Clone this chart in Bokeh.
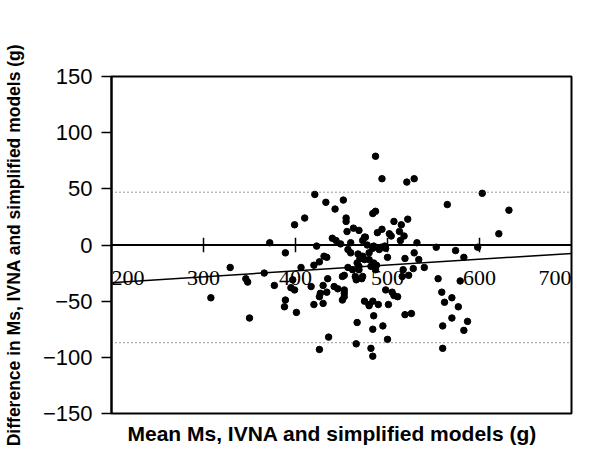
from bokeh.plotting import figure
from bokeh.models import (Range1d, LabelSet, ColumnDataSource, Span,
                          FixedTicker, Slope, Title)
from bokeh.embed import file_html
from bokeh.resources import INLINE

# ---- data ----
mean_x = [487, 494, 521, 529,
          421, 433, 443, 452, 603, 565, 632,
          399, 410, 455, 455, 456, 463, 469, 475, 473,
          484, 487, 489, 494, 502, 504, 507, 515, 522, 513, 518, 532, 621,
          372, 423, 440, 444, 449, 460, 476, 478, 485, 493, 514, 497,
          553, 574, 598, 389,
          457, 460, 468, 473, 475, 431, 434, 426, 420, 406, 329, 366, 346, 348, 377, 308, 350,
          484, 491, 480, 498, 500, 519, 529, 534, 540, 485, 482, 480, 488, 470, 467,
          457, 469, 469, 473, 466, 465, 453, 451, 435, 397, 395, 399, 417, 430, 442, 446, 453,
          427, 426, 434, 453, 453, 451, 420, 430, 475, 480, 401, 389, 388, 467,
          436, 426, 466, 482, 484,
          498, 505, 507, 511, 484, 490, 480, 501, 485, 519, 526, 484, 495, 500, 523, 517, 516, 528,
          583, 555, 579, 559, 570, 562, 577, 570, 587, 560, 583, 560,
          487, 472, 462]
diff_y = [79, 59, 56, 59,
          45, 38, 32, 40, 46, 36, 31,
          18, 24, 24, 21, 12, 15, 13, 7, 4,
          28, 30, 11, 14, 10, 8, 21, 18, 23, 12, 8, 2, 10,
          2, -1, 6, 4, 1, 2, 7, 0, -1, -2, 4, -1,
          -2, -5, -2, -7,
          -4, -7, -8, -10, -13, -10, -11, -15, -18, -20, -20, -25, -30, -33, -36, -47, -65,
          -3, -4, -7, -3, -11, -12, -7, -13, -20, -16, -19, -13, -18, -12, -16,
          -20, -19, -22, -28, -31, -28, -27, -28, -30, -31, -38, -40, -37, -36, -37, -39, -40,
          -43, -46, -42, -43, -46, -49, -53, -52, -50, -53, -60, -49, -55, -69,
          -82, -93, -88, -92, -99,
          -40, -42, -45, -46, -50, -53, -54, -53, -63, -62, -61, -75, -72, -84, -27, -22, -28, -21,
          -11, -30, -32, -42, -47, -51, -55, -65, -68, -72, -76, -92,
          -22, -30, -22]

upper_limit = 47
lower_limit = -87
reg_slope = 0.052
reg_intercept = -43.9

x_tick_values = [200, 300, 400, 500, 600, 700]
x_tick_labels = ["200", "300", "400", "500", "600", "700"]
x_tick_aligns = ["left", "center", "center", "center", "center", "right"]
x_tick_marks = [300, 400, 500, 600]
y_tick_values = [-150, -100, -50, 0, 50, 100, 150]
y_tick_labels = ["\u2212150", "\u2212100", "\u221250", "0", "50", "100", "150"]

x_title = "Mean Ms, IVNA and simplified models  (g)"
y_title = "Difference in Ms, IVNA and simplified models (g)"

FONT = "Liberation Sans"

p = figure(width=582, height=452, x_range=Range1d(200, 700), y_range=Range1d(-150, 150),
           output_backend="svg", toolbar_location=None,
           min_border_left=111, min_border_right=11, min_border_top=76, min_border_bottom=39)
p.background_fill_color = "white"
p.border_fill_color = "white"
p.outline_line_color = "black"
p.outline_line_width = 2
p.grid.visible = False
p.xaxis.visible = False

ya = p.yaxis[0]
ya.ticker = FixedTicker(ticks=y_tick_values)
ya.major_label_overrides = {v: t for v, t in zip(y_tick_values, y_tick_labels)}
ya.major_tick_out = 10
ya.major_tick_in = 0
ya.minor_tick_line_color = None
ya.axis_line_width = 2
ya.axis_line_color = "black"
ya.major_tick_line_color = "black"
ya.major_tick_line_width = 1.5
ya.major_label_text_font = FONT
ya.major_label_text_font_size = "22px"
ya.major_label_text_color = "black"
ya.major_label_standoff = 9
ya.axis_label = y_title
ya.axis_label_text_font = FONT
ya.axis_label_text_font_style = "bold"
ya.axis_label_text_font_size = "17.5px"
ya.axis_label_text_color = "black"
ya.axis_label_standoff = 16

# x title below the frame
p.add_layout(Title(text=x_title, align="left", offset=16, standoff=13,
                   text_font=FONT, text_font_style="bold", text_font_size="21px",
                   text_color="black"), "below")

# zero line acting as x axis
p.add_layout(Span(location=0, dimension="width", line_color="black", line_width=2))
# limits of agreement
for loc in (upper_limit, lower_limit):
    p.add_layout(Span(location=loc, dimension="width", line_color="#333333",
                      line_width=1, line_dash="1 3"))
# regression line
p.add_layout(Slope(gradient=reg_slope, y_intercept=reg_intercept,
                   line_color="black", line_width=1.5))

# crossing tick marks on zero line
p.segment(x0=x_tick_marks, y0=[-6.5] * len(x_tick_marks), x1=x_tick_marks,
          y1=[6.5] * len(x_tick_marks), line_color="black", line_width=1.5)

# points
p.scatter(mean_x, diff_y, size=6.5, color="black")

# x tick labels under the zero line
src = ColumnDataSource(dict(x=x_tick_values, y=[-29.4] * len(x_tick_values),
                            t=x_tick_labels, a=x_tick_aligns))
p.add_layout(LabelSet(x="x", y="y", text="t", source=src, text_align="a",
                      text_baseline="middle", text_font=FONT, text_font_size="22px",
                      text_color="black"))

open("out.html", "w").write(file_html(p, INLINE))
